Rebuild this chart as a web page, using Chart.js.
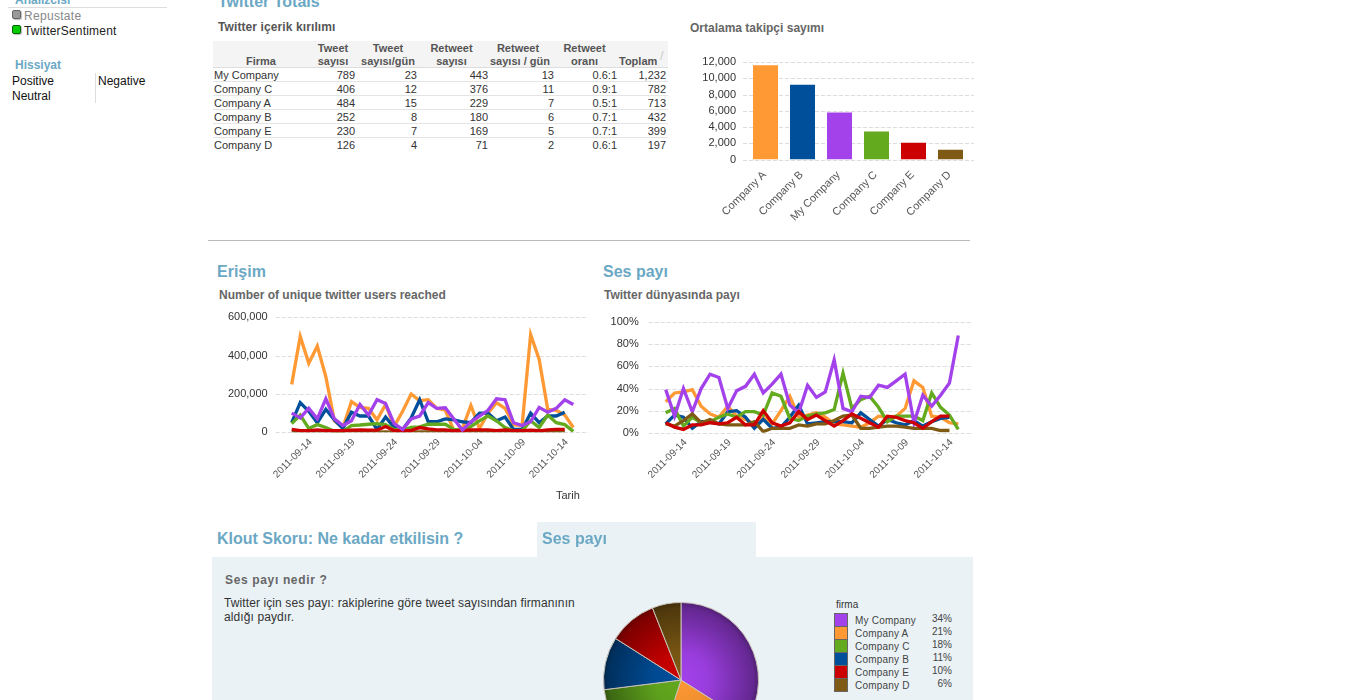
<!DOCTYPE html>
<html><head><meta charset="utf-8">
<script src="https://cdn.jsdelivr.net/npm/chart.js@4"></script>
<style>
html,body{margin:0;padding:0;background:#fff;width:1362px;height:700px;overflow:hidden}
body{position:relative;font-family:"Liberation Sans",Arial,sans-serif}
.a{position:absolute;white-space:nowrap}
.h1{font-weight:bold;font-size:16px;color:#6BA8C4}
.h2{font-weight:bold;font-size:12px;color:#666}
canvas{position:absolute}
#tbl{position:absolute;left:213px;top:41px;width:455px;border-collapse:collapse;font-size:11px;color:#333;table-layout:fixed}
#tbl td{height:13px;padding:0 2px 0 1px;border-bottom:1px solid #e4e4e4;text-align:right;line-height:13px;white-space:nowrap}
#tbl td span{position:relative;top:1px}
#tbl tr:last-child td{border-bottom:none}
#tbl td:first-child{text-align:left}
#tbl th{background:#f4f4f4;font-weight:bold;font-size:11px;color:#555;height:26px;padding:0;vertical-align:bottom;line-height:13px;text-align:center;border-bottom:1px solid #ddd;white-space:nowrap}
#tbl th span{position:relative;top:1px;display:block}
</style></head><body>
<div class="a" style="left:15px;top:-7px;font-size:12px;font-weight:bold;color:#6BA8C4">Analizcisi</div>
<div class="a" style="left:8px;top:7px;width:159px;border-top:1px solid #ddd"></div>
<div class="a" style="left:12px;top:10px;width:7px;height:7px;background:#999;border:1px solid #666;border-radius:2px;box-shadow:1px 1px 1px #bbb"></div>
<div class="a" style="left:24px;top:9px;font-size:12px;color:#888;letter-spacing:.3px">Repustate</div>
<div class="a" style="left:12px;top:25px;width:7px;height:7px;background:#0c0;border:1px solid #060;border-radius:2px;box-shadow:1px 1px 1px #bbb"></div>
<div class="a" style="left:24px;top:24px;font-size:12px;color:#222;letter-spacing:.2px">TwitterSentiment</div>
<div class="a" style="left:15px;top:58px;font-size:12px;font-weight:bold;color:#6BA8C4">Hissiyat</div>
<div class="a" style="left:12px;top:74px;font-size:12px;color:#111">Positive</div>
<div class="a" style="left:98px;top:74px;font-size:12px;color:#111">Negative</div>
<div class="a" style="left:12px;top:89px;font-size:12px;color:#111">Neutral</div>
<div class="a" style="left:95px;top:73px;height:30px;border-left:1px solid #ddd"></div>

<div class="a h1" style="left:218px;top:-7px">Twitter Totals</div>
<div class="a h2" style="left:218px;top:20px;color:#555;letter-spacing:.1px">Twitter içerik kırılımı</div>
<table id="tbl"></table>
<div class="a" style="left:660px;top:48px;font-size:13px;color:#ccc">/</div>
<div class="a h2" style="left:690px;top:21px">Ortalama takipçi sayımı</div>
<canvas id="bar"></canvas>
<div class="a" style="left:208px;top:240px;width:762px;border-top:1px solid #bbb"></div>

<div class="a h1" style="left:217px;top:263px">Erişim</div>
<div class="a h2" style="left:219px;top:288px">Number of unique twitter users reached</div>
<canvas id="reach"></canvas>
<div class="a" style="left:556px;top:489px;font-size:11px;color:#333">Tarih</div>
<div class="a h1" style="left:603px;top:263px">Ses payı</div>
<div class="a h2" style="left:604px;top:288px">Twitter dünyasında payı</div>
<canvas id="share"></canvas>

<div class="a h1" style="left:217px;top:530px">Klout Skoru: Ne kadar etkilisin ?</div>
<div class="a" style="left:537px;top:522px;width:219px;height:36px;background:#EAF2F6"></div>
<div class="a" style="left:212px;top:557px;width:761px;height:143px;background:#EAF2F6"></div>
<div class="a h1" style="left:542px;top:530px">Ses payı</div>
<div class="a" style="left:225px;top:573px;font-size:12px;font-weight:bold;color:#666;letter-spacing:.65px">Ses payı nedir ?</div>
<div class="a" style="left:224px;top:596px;font-size:12px;color:#333;line-height:14px;letter-spacing:.1px">Twitter için ses payı: rakiplerine göre tweet sayısından firmanının<br>aldığı paydır.</div>
<canvas id="pie"></canvas>
<div id="legend"></div>

<script>
const companies = ["My Company","Company C","Company A","Company B","Company E","Company D"];
const tableHead = ["Firma","Tweet<br>sayısı","Tweet<br>sayısı/gün","Retweet<br>sayısı","Retweet<br>sayısı / gün","Retweet<br>oranı","Toplam"];
const tweets = [789,406,484,252,230,126];
const tweetsDay = [23,12,15,8,7,4];
const retweets = [443,376,229,180,169,71];
const retweetsDay = [13,11,7,6,5,2];
const ratio = ["0.6:1","0.9:1","0.5:1","0.7:1","0.7:1","0.6:1"];
const totals = ["1,232","782","713","432","399","197"];

const barLabels = ["Company A","Company B","My Company","Company C","Company E","Company D"];
const barValues = [11600,9200,5800,3450,2050,1200];
const barColors = ["#FF9933","#004F9B","#A341EB","#63AA1E","#CC0000","#7F5A14"];

const dates = ["2011-09-12","2011-09-13","2011-09-14","2011-09-15","2011-09-16","2011-09-17","2011-09-18","2011-09-19","2011-09-20","2011-09-21","2011-09-22","2011-09-23","2011-09-24","2011-09-25","2011-09-26","2011-09-27","2011-09-28","2011-09-29","2011-09-30","2011-10-01","2011-10-02","2011-10-03","2011-10-04","2011-10-05","2011-10-06","2011-10-07","2011-10-08","2011-10-09","2011-10-10","2011-10-11","2011-10-12","2011-10-13","2011-10-14","2011-10-15"];

const reachOrange = [250000,500000,360000,450000,290000,60000,25000,160000,130000,125000,65000,145000,30000,110000,200000,165000,170000,125000,115000,10000,20000,140000,20000,100000,155000,125000,40000,35000,510000,380000,120000,115000,90000,25000];
const reachBlue = [50000,155000,110000,50000,120000,65000,20000,105000,85000,85000,15000,80000,25000,15000,75000,170000,55000,55000,70000,65000,55000,50000,100000,100000,60000,80000,15000,15000,100000,50000,85000,85000,105000];
const reachGreen = [45000,90000,20000,40000,25000,5000,5000,35000,38000,42000,45000,40000,15000,12000,25000,28000,42000,42000,42000,15000,10000,30000,60000,85000,60000,25000,8000,8000,60000,25000,90000,50000,40000,5000];
const reachPurple = [100000,75000,125000,70000,175000,70000,35000,60000,145000,90000,170000,150000,45000,15000,70000,85000,155000,125000,128000,70000,12000,55000,85000,115000,175000,170000,50000,35000,55000,130000,105000,125000,170000,145000];
const reachBrown = [1500,1000,1000,1500,1000,500,500,1000,1500,1000,1000,2000,500,500,1000,1500,1500,1000,1000,500,500,1000,1000,1500,1000,1000,500,500,1000,500,1000,1000,1000];
const reachRed = [15000,9000,8000,13000,9000,8000,8000,11000,13000,11000,11000,30000,9000,8000,9000,25000,18000,13000,13000,8000,9000,13000,13000,13000,9000,13000,9000,9000,11000,8000,13000,15000,15000];

const shareOrange = [28,36,37,39,24,17,14,24,15,12,8,14,8,20,33,14,16,18,14,8,7,6,5,9,15,14,15,22,47,41,15,14,9,8];
const shareBlue = [8,16,14,4,10,10,8,19,20,14,4,12,4,5,14,25,8,9,10,10,10,9,18,12,6,12,9,7,11,6,10,13,14];
const shareGreen = [18,22,6,14,9,10,14,17,14,19,19,16,36,33,13,11,15,17,18,21,54,22,30,33,23,10,15,15,15,11,36,23,16,3];
const sharePurple = [39,15,40,19,40,53,50,22,38,42,53,36,44,53,25,18,43,32,37,66,22,19,33,32,43,41,47,53,9,34,24,34,45,88];
const shareBrown = [8,6,11,17,9,12,8,7,7,7,10,1,4,4,4,7,6,8,8,11,15,16,4,4,5,6,6,5,4,4,4,2,2];
const shareRed = [9,5,3,7,7,9,8,9,14,7,7,20,9,6,9,19,12,16,11,6,11,17,13,9,5,15,14,11,9,4,10,15,15];

const pieLabels = ["My Company","Company A","Company C","Company B","Company E","Company D"];
const pieValues = [34,21,18,11,10,6];
const pieColors = ["#A341EB","#FF9933","#63AA1E","#004F9B","#CC0000","#7F5A14"];

const FONT = '"Liberation Sans",Arial,sans-serif';
Chart.defaults.font.family = FONT;
Chart.defaults.animation = false;
Chart.defaults.responsive = false;

/* table */
const rows = companies.map((c,i)=>[c,tweets[i],tweetsDay[i],retweets[i],retweetsDay[i],ratio[i],totals[i]]);
const widths = [96,48,62,71,66,63,49];
const headShift = [0,0,0,6,10,6,12];
document.getElementById('tbl').innerHTML =
 '<colgroup>'+widths.map(w=>`<col style="width:${w}px">`).join('')+'</colgroup>'+
 '<tr>'+tableHead.map((h,i)=>`<th style="padding-right:${headShift[i]}px"><span>${h}</span></th>`).join('')+'</tr>'+
 rows.map(r=>'<tr>'+r.map(v=>`<td><span>${v}</span></td>`).join('')+'</tr>').join('');

/* legend */
let lg = '<div class="a" style="left:836px;top:599px;font-size:10px;color:#333">firma</div>';
pieLabels.forEach((n,i)=>{
  const y = 613+i*13;
  lg += `<div class="a" style="left:834px;top:${y}px;width:12px;height:12px;background:${pieColors[i]};border:1px solid #666"></div>`;
  lg += `<div class="a" style="left:855px;top:${y+2}px;font-size:10px;color:#444;letter-spacing:.2px">${n}</div>`;
  lg += `<div class="a" style="left:920px;width:32px;text-align:right;top:${y}px;font-size:10px;color:#444">${pieValues[i]}%</div>`;
});
document.getElementById('legend').innerHTML = lg;

/* gridlines extending past the plot area */
const extGrid = { id:'extGrid', beforeDatasetsDraw(ch,a,o){
  const s = ch.scales.y, c = ch.ctx; c.save();
  c.strokeStyle='#DDDDDD'; c.lineWidth=1; c.setLineDash([4,2]);
  s.ticks.forEach((t,i)=>{ const y=Math.round(s.getPixelForTick(i))+0.5;
    c.beginPath(); c.moveTo(ch.chartArea.left-o.left,y); c.lineTo(ch.chartArea.right+o.right,y); c.stroke(); });
  c.restore();
}};

function place(id,left,top,w,h){ const e=document.getElementById(id); e.style.left=left+'px'; e.style.top=top+'px'; e.width=w; e.height=h; return e; }

function axes(o){
  return {
    x:{offset:o.offset,grid:{display:false,drawTicks:false},border:{display:false},
       afterFit(s){s.height=o.xh;s.paddingLeft=0;s.paddingRight=0;},
       ticks:{autoSkip:false,maxRotation:45,minRotation:45,padding:o.xpad,labelOffset:o.lo,color:'#555',font:{size:o.xfont},callback:o.xcb}},
    y:{min:0,max:o.yMax,grid:{display:false,drawTicks:false},border:{display:false},
       afterFit(s){s.width=o.yw;s.paddingTop=0;s.paddingBottom=0;},
       ticks:{stepSize:o.step,autoSkip:false,color:'#333',font:{size:11},padding:o.ypad,callback:o.fmt}}
  };
}
const comma = v=>v.toLocaleString('en-US');

/* bar */
new Chart(place('bar',690,50,290,180),{type:'bar',
  data:{labels:barLabels,datasets:[{data:barValues,backgroundColor:barColors,barPercentage:0.676,categoryPercentage:1}]},
  options:{layout:{padding:{top:12,right:11,left:0,bottom:0}},
    plugins:{legend:{display:false},tooltip:{enabled:false},extGrid:{left:4,right:5}},
    scales:axes({yMax:12000,step:2000,yw:57,xh:70.5,fmt:comma,xcb:function(v){return this.getLabelForValue(v);},offset:true,xfont:11,ypad:11,xpad:9,lo:-1})},
  plugins:[extGrid]});

function lineDs(d,color){return {data:d,borderColor:color,borderWidth:3.3,pointRadius:0,tension:0,fill:false,borderJoinStyle:'miter',borderCapStyle:'butt'};}
const dateTick = function(v,i){return (i-2)%5===0?this.getLabelForValue(v):null;};

/* reach: Chart.js paints the first dataset last, so the list runs front to back */
new Chart(place('reach',210,305,390,195),{type:'line',
  data:{labels:dates,datasets:[lineDs(reachPurple,'#A341EB'),lineDs(reachRed,'#CC0000'),lineDs(reachBrown,'#7F5A14'),lineDs(reachGreen,'#63AA1E'),lineDs(reachBlue,'#004F9B'),lineDs(reachOrange,'#FF9933')]},
  options:{layout:{padding:{top:12.3,right:26.7,left:0,bottom:0}},
    plugins:{legend:{display:false},tooltip:{enabled:false},extGrid:{left:16,right:15}},
    scales:axes({yMax:600000,step:200000,yw:81.7,xh:67.7,fmt:comma,xcb:dateTick,offset:false,xfont:10,ypad:24,xpad:4,lo:2})},
  plugins:[extGrid]});

/* share */
new Chart(place('share',600,310,380,185),{type:'line',
  data:{labels:dates,datasets:[lineDs(shareRed,'#CC0000'),lineDs(shareBrown,'#7F5A14'),lineDs(sharePurple,'#A341EB'),lineDs(shareGreen,'#63AA1E'),lineDs(shareBlue,'#004F9B'),lineDs(shareOrange,'#FF9933')]},
  options:{layout:{padding:{top:12.3,right:21.7,left:0,bottom:0}},
    plugins:{legend:{display:false},tooltip:{enabled:false},extGrid:{left:17,right:14.5}},
    scales:axes({yMax:100,step:20,yw:65.7,xh:62.3,fmt:v=>v+'%',xcb:dateTick,offset:false,xfont:10,ypad:27,xpad:4,lo:2})},
  plugins:[extGrid]});

/* pie */
function shade(hex,f){const n=parseInt(hex.slice(1),16);const r=(n>>16)&255,g=(n>>8)&255,b=n&255;return `rgb(${Math.round(r*f)},${Math.round(g*f)},${Math.round(b*f)})`;}
new Chart(place('pie',603,602,156,156),{type:'pie',
  data:{labels:pieLabels,datasets:[{data:pieValues,borderColor:'#C9C2B8',borderWidth:1,
    backgroundColor(ctx){
      const c=pieColors[ctx.dataIndex], a=ctx.chart.chartArea; if(!a) return c;
      const cx=(a.left+a.right)/2, cy=(a.top+a.bottom)/2, r=Math.min(a.width,a.height)/2;
      const g=ctx.chart.ctx.createRadialGradient(cx,cy,0,cx,cy,r);
      g.addColorStop(0,c); g.addColorStop(0.35,shade(c,0.94)); g.addColorStop(0.92,shade(c,0.62)); g.addColorStop(1,shade(c,0.48));
      return g;
    }}]},
  options:{plugins:{legend:{display:false},tooltip:{enabled:false}}}});
</script>
</body></html>
